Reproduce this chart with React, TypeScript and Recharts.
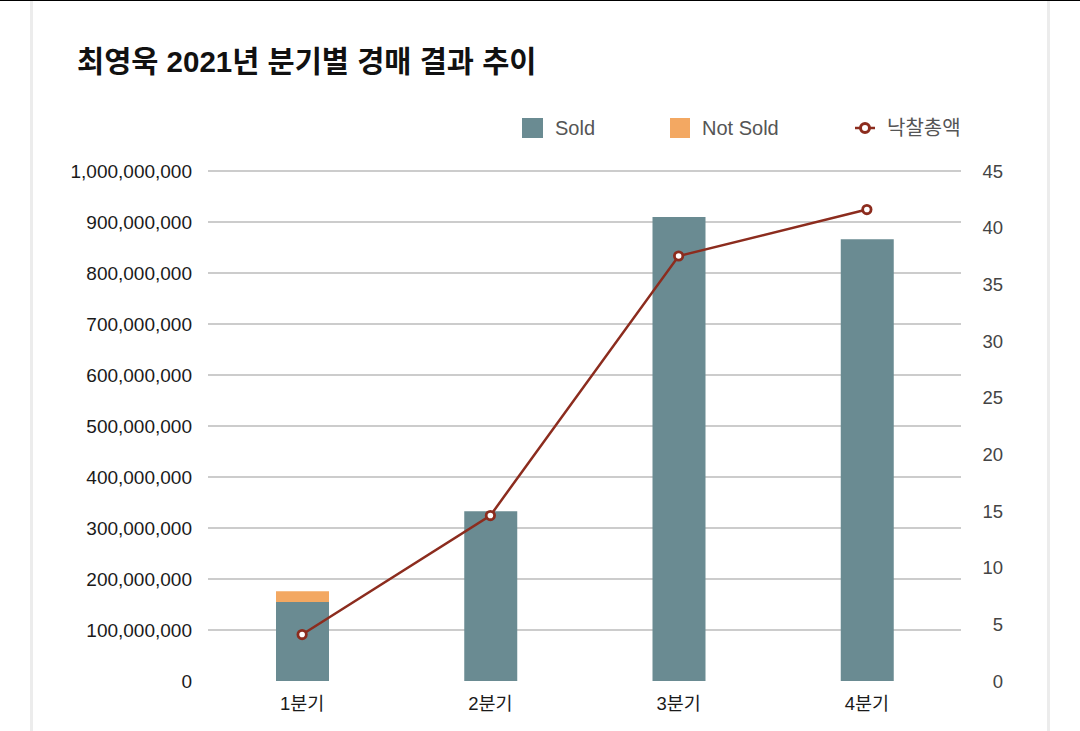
import React from 'react';
import { ComposedChart, Bar, Line, XAxis, YAxis, CartesianGrid } from 'recharts';

const quarters = ['1분기', '2분기', '3분기', '4분기'];
const soldValues = [155000000, 333000000, 910000000, 866000000];
const notSoldValues = [21000000, 0, 0, 0];
const totalValues = [4.1, 14.6, 37.5, 41.6];
const leftTicks = [0, 100000000, 200000000, 300000000, 400000000, 500000000, 600000000, 700000000, 800000000, 900000000, 1000000000];
const gridValues = leftTicks.filter((v) => v > 0);
const rightTicks = [0, 5, 10, 15, 20, 25, 30, 35, 40, 45];
const seriesNames = ['Sold', 'Not Sold', '낙찰총액'];

const data = quarters.map((q, i) => ({
  quarter: q,
  sold: soldValues[i],
  notSold: notSoldValues[i],
  total: totalValues[i],
}));

const FONT = '"Liberation Sans", "Noto Sans CJK KR", sans-serif';
const TEAL = '#6a8b92';
const ORANGE = '#f3a862';
const RED = '#8c2c1e';

const LeftTick = (props: any) => {
  const { x, y, payload } = props;
  return (
    <text x={x - 16} y={y} textAnchor="end" dominantBaseline="central" fontSize={19} fill="#1a1a1a" fontFamily={FONT}>
      {Number(payload.value).toLocaleString('en-US')}
    </text>
  );
};

const RightTick = (props: any) => {
  const { x, y, payload } = props;
  return (
    <text x={x + 42} y={y} textAnchor="end" dominantBaseline="central" fontSize={18.5} fill="#444" fontFamily={FONT}>
      {payload.value}
    </text>
  );
};

const BottomTick = (props: any) => {
  const { x, y, payload } = props;
  return (
    <text x={x} y={y + 22} textAnchor="middle" dominantBaseline="central" fontSize={18.5} fill="#1a1a1a" fontFamily={FONT}>
      {payload.value}
    </text>
  );
};

export default function App() {
  return (
    <div style={{ position: 'absolute', left: 0, top: 0, width: 1080, height: 731, background: '#fff', overflow: 'hidden', fontFamily: FONT }}>
      <div style={{ position: 'absolute', left: 0, top: 0, width: 1080, height: 1, background: '#000' }} />
      <div style={{ position: 'absolute', left: 30, top: 1, width: 3, height: 730, background: '#ececec' }} />
      <div style={{ position: 'absolute', left: 1047, top: 1, width: 3, height: 730, background: '#ececec' }} />
      <div style={{ position: 'absolute', left: 77, top: 42, fontSize: 29.5, fontWeight: 700, color: '#111', lineHeight: '40px', whiteSpace: 'nowrap' }}>
        최영욱 2021년 분기별 경매 결과 추이
      </div>
      {/* legend */}
      <div style={{ position: 'absolute', left: 522, top: 118, width: 21, height: 20, background: TEAL }} />
      <div style={{ position: 'absolute', left: 555, top: 113, fontSize: 20, lineHeight: '30px', color: '#555' }}>{seriesNames[0]}</div>
      <div style={{ position: 'absolute', left: 670, top: 118, width: 20, height: 20, background: ORANGE }} />
      <div style={{ position: 'absolute', left: 702, top: 113, fontSize: 20, lineHeight: '30px', color: '#555' }}>{seriesNames[1]}</div>
      <svg style={{ position: 'absolute', left: 850, top: 116 }} width={30} height={24}>
        <line x1={5} y1={12} x2={25} y2={12} stroke={RED} strokeWidth={2.5} />
        <circle cx={15} cy={12} r={4.5} fill="#fff" stroke={RED} strokeWidth={3} />
      </svg>
      <div style={{ position: 'absolute', left: 887, top: 113, fontSize: 20, lineHeight: '30px', color: '#555' }}>{seriesNames[2]}</div>

      <div style={{ position: 'absolute', left: 0, top: 0 }}>
        <ComposedChart width={1080} height={731} data={data} margin={{ top: 171, right: 0, bottom: 0, left: 0 }}>
          <CartesianGrid vertical={false} yAxisId="left" horizontalValues={gridValues} stroke="#999" />
          <XAxis dataKey="quarter" height={50} tickSize={0} tickMargin={0} axisLine={false} tickLine={false} tick={<BottomTick />} interval={0} />
          <YAxis yAxisId="left" orientation="left" width={208} domain={[0, 1000000000]} ticks={leftTicks} interval={0} tickSize={0} tickMargin={0} axisLine={false} tickLine={false} tick={<LeftTick />} />
          <YAxis yAxisId="right" orientation="right" width={119} domain={[0, 45]} ticks={rightTicks} interval={0} tickSize={0} tickMargin={0} axisLine={false} tickLine={false} tick={<RightTick />} />
          <Bar yAxisId="left" dataKey="sold" name={seriesNames[0]} stackId="a" fill={TEAL} barSize={53} isAnimationActive={false} />
          <Bar yAxisId="left" dataKey="notSold" name={seriesNames[1]} stackId="a" fill={ORANGE} barSize={53} isAnimationActive={false} />
          <Line yAxisId="right" dataKey="total" name={seriesNames[2]} type="linear" stroke={RED} strokeWidth={2.5} dot={{ r: 4.2, fill: '#fff', stroke: RED, strokeWidth: 2.8 }} activeDot={false} isAnimationActive={false} />
        </ComposedChart>
      </div>
    </div>
  );
}
